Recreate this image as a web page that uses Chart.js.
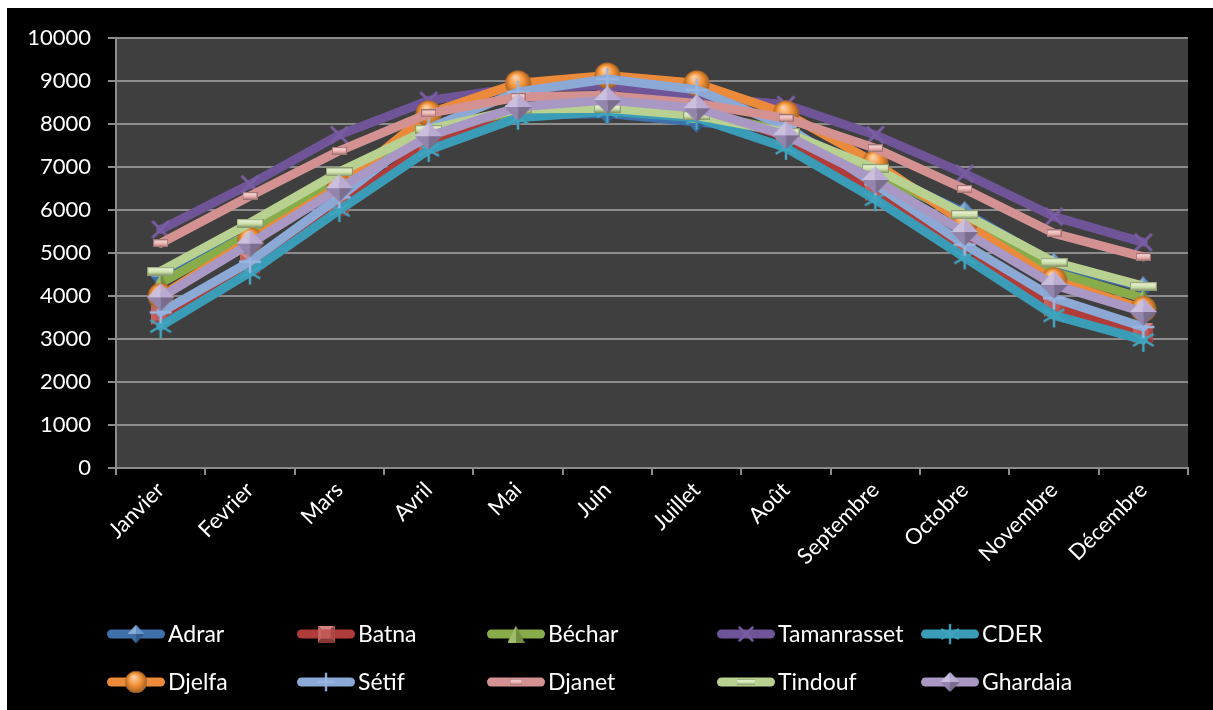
<!DOCTYPE html>
<html>
<head>
<meta charset="utf-8">
<script src="https://cdn.jsdelivr.net/npm/chart.js@4.4.1/dist/chart.umd.min.js"></script>
<style>
  html, body { margin: 0; padding: 0; background: #ffffff; width: 1213px; height: 710px; overflow: hidden; }
  #frame { position: absolute; left: 7px; top: 8px; width: 1206px; height: 702px; background: #000000; }
  #c { display: block; }
</style>
</head>
<body>
<div id="frame"><canvas id="c" width="1206" height="702"></canvas></div>
<script>
// Monthly series per station
const months = ['Janvier','Fevrier','Mars','Avril','Mai','Juin','Juillet','Août','Septembre','Octobre','Novembre','Décembre'];
const yTicks = [0, 1000, 2000, 3000, 4000, 5000, 6000, 7000, 8000, 9000, 10000];

const adrar       = [4450, 5550, 6750, 7800, 8200, 8250, 8050, 7850, 6900, 5950, 4750, 4200];
const batna       = [3550, 4750, 6100, 7550, 8300, 8600, 8400, 7700, 6450, 5150, 3750, 3150];
const bechar      = [4300, 5450, 6700, 7900, 8300, 8450, 8250, 7850, 6850, 5850, 4550, 3950];
const tamanrasset = [5550, 6600, 7750, 8550, 8850, 8900, 8650, 8450, 7750, 6850, 5850, 5250];
const cder        = [3300, 4550, 6000, 7400, 8150, 8300, 8150, 7450, 6250, 4900, 3550, 2980];
const djelfa      = [4000, 5300, 6550, 8250, 8950, 9130, 8950, 8250, 7100, 5700, 4370, 3700];
const setif       = [3620, 4800, 6300, 7900, 8750, 9050, 8800, 7950, 6600, 5200, 3950, 3280];
const djanet      = [5230, 6330, 7380, 8250, 8630, 8670, 8480, 8140, 7440, 6490, 5460, 4910];
const tindouf     = [4580, 5700, 6890, 7880, 8350, 8370, 8200, 7810, 6970, 5900, 4790, 4230];
const ghardaia    = [3970, 5220, 6510, 7720, 8400, 8560, 8370, 7740, 6700, 5490, 4260, 3630];

const FONT = 'Lato, "Open Sans", sans-serif';

// --- shaded marker sprites -------------------------------------------------
function shade(hex, f) {
  const n = parseInt(hex.slice(1), 16);
  let r = (n >> 16) & 255, g = (n >> 8) & 255, b = n & 255;
  if (f >= 0) { r += (255 - r) * f; g += (255 - g) * f; b += (255 - b) * f; }
  else { r *= 1 + f; g *= 1 + f; b *= 1 + f; }
  return 'rgb(' + Math.round(r) + ',' + Math.round(g) + ',' + Math.round(b) + ')';
}

function sprite(w, h, draw) {
  const c = document.createElement('canvas');
  c.width = w; c.height = h;
  draw(c.getContext('2d'), w, h);
  return c;
}

function diamond(color, w, h) {
  return sprite(w, h, (g) => {
    const cx = w / 2, cy = h / 2;
    const tri = (pts, fill) => { g.beginPath(); g.moveTo(cx, cy); pts.forEach(p => g.lineTo(p[0], p[1])); g.closePath(); g.fillStyle = fill; g.fill(); };
    tri([[cx, 0], [0, cy]], shade(color, 0.35));
    tri([[cx, 0], [w, cy]], shade(color, 0.15));
    tri([[0, cy], [cx, h]], shade(color, -0.15));
    tri([[w, cy], [cx, h]], shade(color, -0.3));
  });
}

function square(color, s) {
  return sprite(s, s, (g) => {
    const c = s / 2, i = s * 0.22;
    const quad = (pts, fill) => { g.beginPath(); g.moveTo(pts[0][0], pts[0][1]); pts.slice(1).forEach(p => g.lineTo(p[0], p[1])); g.closePath(); g.fillStyle = fill; g.fill(); };
    quad([[0, 0], [s, 0], [c, c]], shade(color, 0.3));
    quad([[s, 0], [s, s], [c, c]], shade(color, -0.1));
    quad([[0, s], [s, s], [c, c]], shade(color, -0.3));
    quad([[0, 0], [0, s], [c, c]], shade(color, 0.1));
    g.fillStyle = shade(color, 0.05);
    g.fillRect(i, i, s - 2 * i, s - 2 * i);
  });
}

function triangle(color, s) {
  return sprite(s, s, (g) => {
    g.beginPath(); g.moveTo(s / 2, 0); g.lineTo(0, s); g.lineTo(s / 2, s); g.closePath();
    g.fillStyle = shade(color, 0.15); g.fill();
    g.beginPath(); g.moveTo(s / 2, 0); g.lineTo(s, s); g.lineTo(s / 2, s); g.closePath();
    g.fillStyle = shade(color, -0.2); g.fill();
  });
}

function sphere(color, s) {
  return sprite(s, s, (g) => {
    const r = s / 2;
    const grad = g.createRadialGradient(r * 0.8, r * 0.55, r * 0.1, r, r, r);
    grad.addColorStop(0, shade(color, 0.55));
    grad.addColorStop(0.5, color);
    grad.addColorStop(1, shade(color, -0.35));
    g.beginPath(); g.arc(r, r, r - 0.5, 0, Math.PI * 2); g.fillStyle = grad; g.fill();
  });
}

function strokes(color, s, angles, lw) {
  return sprite(s, s, (g) => {
    const r = s / 2;
    g.strokeStyle = color; g.lineWidth = lw; g.lineCap = 'butt';
    angles.forEach(a => {
      const dx = Math.cos(a) * (r - 1), dy = Math.sin(a) * (r - 1);
      g.beginPath(); g.moveTo(r - dx, r - dy); g.lineTo(r + dx, r + dy); g.stroke();
    });
  });
}

function bar(color, w, h) {
  return sprite(w, h, (g) => {
    const grad = g.createLinearGradient(0, 0, 0, h);
    grad.addColorStop(0, shade(color, -0.15));
    grad.addColorStop(0.25, shade(color, 0.5));
    grad.addColorStop(0.6, shade(color, 0.1));
    grad.addColorStop(1, shade(color, -0.35));
    g.fillStyle = grad; g.fillRect(0, 0, w, h);
    g.strokeStyle = shade(color, -0.3); g.lineWidth = 1; g.strokeRect(0.5, 0.5, w - 1, h - 1);
  });
}

const D = Math.PI / 180;
const series = [
  { label: 'Adrar',       data: adrar,       color: '#3E70AC', marker: diamond('#4A80C2', 20, 22) },
  { label: 'Batna',       data: batna,       color: '#B03C39', marker: square('#C0504D', 20) },
  { label: 'Béchar',      data: bechar,      color: '#89AC4B', marker: triangle('#8DB04E', 20) },
  { label: 'Tamanrasset', data: tamanrasset, color: '#6F5597', marker: strokes('#7A5EA3', 26, [45 * D, 135 * D], 3) },
  { label: 'CDER',        data: cder,        color: '#3A9CB6', marker: strokes('#42A5C0', 26, [90 * D, 30 * D, 150 * D], 2.5) },
  { label: 'Djelfa',      data: djelfa,      color: '#EB8A3A', marker: sphere('#F39135', 27) },
  { label: 'Sétif',       data: setif,       color: '#8CA9D6', marker: strokes('#9AB6E0', 24, [0, 90 * D], 2.5) },
  { label: 'Djanet',      data: djanet,      color: '#D39291', marker: bar('#E6A4A3', 15, 8) },
  { label: 'Tindouf',     data: tindouf,     color: '#B8D090', marker: bar('#C6DC9E', 27, 9) },
  { label: 'Ghardaia',    data: ghardaia,    color: '#A898C3', marker: diamond('#AE9CCB', 27, 28) }
];

// Bottom legend laid out in two rows of five, each entry a short line with its marker
const legendCols = [100, 290, 480, 710, 914];
const legendRows = [626, 674];
const bottomLegend = {
  id: 'bottomLegend',
  afterDraw(chart) {
    const g = chart.ctx;
    g.save();
    series.forEach((s, i) => {
      const x = legendCols[i % 5], y = legendRows[Math.floor(i / 5)];
      g.strokeStyle = s.color; g.lineWidth = 9; g.lineCap = 'round';
      g.beginPath(); g.moveTo(x + 4.5, y); g.lineTo(x + 53.5, y); g.stroke();
      const m = s.marker;
      const k = s.label === 'Ghardaia' ? 0.72 : (s.label === 'Tindouf' ? 0.7 : 0.85);
      const mw = m.width * k, mh = m.height * k;
      g.drawImage(m, x + 29 - mw / 2, y - mh / 2, mw, mh);
      g.fillStyle = '#ffffff';
      g.font = '23px ' + FONT;
      g.textBaseline = 'middle';
      g.textAlign = 'left';
      g.fillText(s.label, x + 61, y + 1);
    });
    g.restore();
  }
};

// Dark plot area behind the grid
const plotBg = {
  id: 'plotBg',
  beforeDraw(chart) {
    const a = chart.chartArea, g = chart.ctx;
    g.save(); g.fillStyle = '#3F3F3F'; g.fillRect(a.left, a.top, a.right - a.left, a.bottom - a.top); g.restore();
  }
};

new Chart(document.getElementById('c'), {
  type: 'line',
  data: {
    labels: months,
    datasets: series.map((s, i) => ({
      label: s.label,
      data: s.data,
      borderColor: s.color,
      backgroundColor: s.color,
      borderWidth: 9,
      borderCapStyle: 'round',
      borderJoinStyle: 'round',
      tension: 0,
      pointStyle: s.marker,
      pointRadius: 10,
      pointHoverRadius: 10,
      order: series.length - 1 - i
    }))
  },
  options: {
    responsive: false,
    animation: false,
    events: [],
    layout: { padding: { top: 30, right: 25, left: 0, bottom: 0 } },
    plugins: { legend: { display: false }, tooltip: { enabled: false } },
    scales: {
      x: {
        offset: true,
        grid: { offset: true, drawOnChartArea: false, drawTicks: true, tickLength: 7, color: '#8C8C8C', lineWidth: 2 },
        border: { color: '#8C8C8C', width: 2 },
        ticks: { color: '#ffffff', font: { family: FONT, size: 22 }, maxRotation: 45, minRotation: 45, padding: 2, autoSkip: false },
        afterFit(scale) { scale.height = 242; }
      },
      y: {
        min: 0, max: 10000,
        afterBuildTicks(scale) { scale.ticks = yTicks.map(v => ({ value: v })); },
        grid: { color: '#8C8C8C', lineWidth: 2, tickLength: 8 },
        border: { color: '#8C8C8C', width: 2 },
        ticks: { color: '#ffffff', font: { family: FONT, size: 22 }, padding: 17, callback: (v) => String(v) },
        afterFit(scale) { scale.width = 109; }
      }
    }
  },
  plugins: [plotBg, bottomLegend]
});
</script>
</body>
</html>
